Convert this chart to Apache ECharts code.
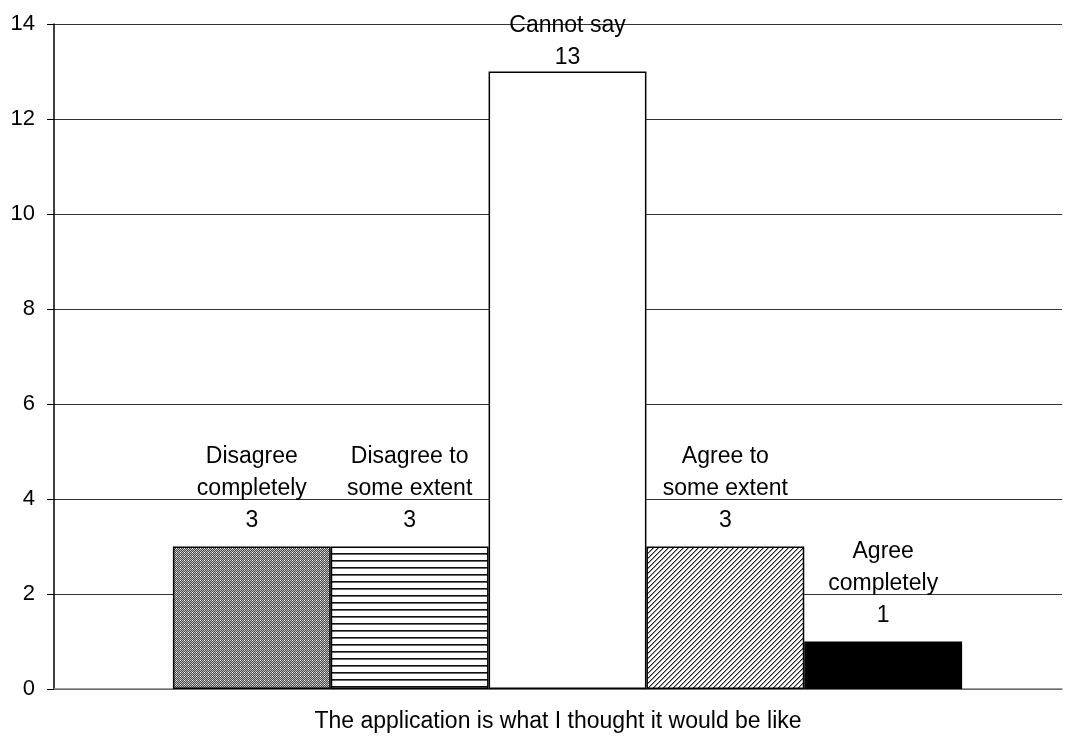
<!DOCTYPE html>
<html>
<head>
<meta charset="utf-8">
<script src="https://cdn.jsdelivr.net/npm/echarts@6/dist/echarts.min.js"></script>
<style>
  html, body { margin: 0; padding: 0; background: #fff; }
  #chart { width: 1072px; height: 738px; }
</style>
</head>
<body>
<div id="chart"></div>
<script>
// Survey answers for a single statement
const question = 'The application is what I thought it would be like';
const answers = ['Disagree\ncompletely', 'Disagree to\nsome extent', 'Cannot say', 'Agree to\nsome extent', 'Agree\ncompletely'];
const counts = [3, 3, 13, 3, 1];
const yTicks = { min: 0, max: 14, interval: 2 };

const FONT = '"Liberation Sans", Arial, Helvetica, sans-serif';

// Small tiles used as repeating fills for the bars
function makeTile(w, h, paint) {
  const c = document.createElement('canvas');
  c.width = w; c.height = h;
  const ctx = c.getContext('2d');
  ctx.fillStyle = '#fff';
  ctx.fillRect(0, 0, w, h);
  for (let y = 0; y < h; y++) {
    for (let x = 0; x < w; x++) {
      const col = paint(x, y);
      if (col) { ctx.fillStyle = col; ctx.fillRect(x, y, 1, 1); }
    }
  }
  return c;
}
const checkTile = makeTile(4, 4, (x, y) => {
  if (x % 4 === 0 && y % 4 === 0) return '#fff';
  return (x + y) % 2 ? '#4a4a4a' : '#bdbdbd';
});
const hLineTile = makeTile(8, 7, (x, y) => (y === 0 ? '#111' : y === 1 ? '#666' : null));
const diagTile = makeTile(5, 5, (x, y) => {
  const k = (x + y) % 5;
  return k === 0 ? '#222' : k === 1 ? '#999' : null;
});

const fills = [
  { image: checkTile, repeat: 'repeat' },
  { image: hLineTile, repeat: 'repeat' },
  '#ffffff',
  { image: diagTile, repeat: 'repeat' },
  '#000000'
];

const chart = echarts.init(document.getElementById('chart'), null, { renderer: 'canvas' });

// Labels of bars reaching close to the axis maximum are pushed down so they stay inside the chart
const series = answers.map((name, i) => ({
  name: name,
  type: 'bar',
  xAxisIndex: 1,
  yAxisIndex: 1,
  barGap: 0,
  barCategoryGap: '20.2%',
  data: [counts[i]],
  itemStyle: { color: fills[i], borderColor: '#000', borderWidth: 1.5 },
  label: {
    show: true,
    position: 'top',
    distance: 10,
    offset: [0, counts[i] > yTicks.max - 2 ? 12 : 0],
    color: '#000',
    fontFamily: FONT,
    fontSize: 23,
    lineHeight: 32,
    formatter: p => p.seriesName + '\n' + p.value
  },
  silent: true,
  animation: false
}));

chart.setOption({
  backgroundColor: '#fff',
  animation: false,
  grid: [
    { left: 54, right: 10, top: 24, bottom: 49 },
    { left: 73, right: 10, top: 24, bottom: 49 }
  ],
  xAxis: [
    {
      gridIndex: 0,
      type: 'category',
      data: [question],
      axisLine: { show: true, lineStyle: { color: '#808080', width: 1.5 } },
      axisTick: { show: false },
      axisLabel: { color: '#000', fontFamily: FONT, fontSize: 23, margin: 21 }
    },
    {
      gridIndex: 1,
      type: 'category',
      data: [question],
      show: false
    }
  ],
  yAxis: [
    {
      gridIndex: 0,
      type: 'value',
      min: yTicks.min,
      max: yTicks.max,
      interval: yTicks.interval,
      axisLine: { show: true, lineStyle: { color: '#000', width: 1.5 } },
      axisTick: { show: true, length: 7, lineStyle: { color: '#000', width: 1 } },
      axisLabel: { color: '#000', fontFamily: FONT, fontSize: 22, margin: 19 },
      splitLine: { show: true, lineStyle: { color: '#333', width: 1 } }
    },
    {
      gridIndex: 1,
      type: 'value',
      min: yTicks.min,
      max: yTicks.max,
      interval: yTicks.interval,
      show: false,
      splitLine: { show: false }
    }
  ],
  series: series
});
</script>
</body>
</html>
